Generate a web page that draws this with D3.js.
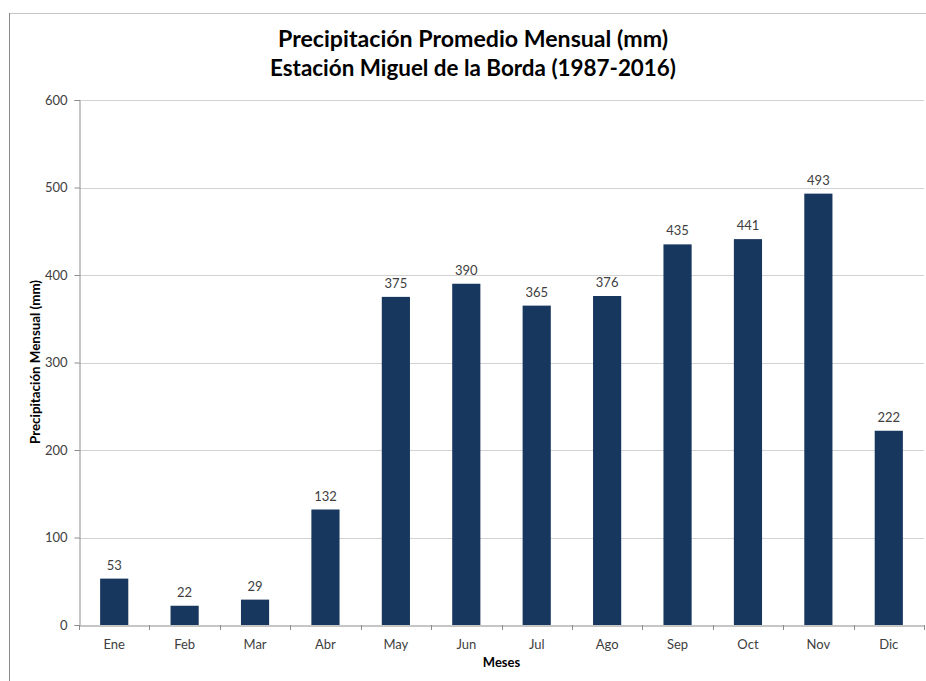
<!DOCTYPE html>
<html><head><meta charset="utf-8">
<script src="https://cdn.jsdelivr.net/npm/d3@7"></script>
<style>body{margin:0;background:#fff}svg{display:block}</style>
</head><body>
<svg id="c" width="926" height="681"></svg>
<script>
const months = ["Ene","Feb","Mar","Abr","May","Jun","Jul","Ago","Sep","Oct","Nov","Dic"];
const precip = [53,22,29,132,375,390,365,376,435,441,493,222];
const yTicks = [0,100,200,300,400,500,600];
const titleLines = ["Precipitación Promedio Mensual (mm)","Estación Miguel de la Borda (1987-2016)"];
const xTitle = "Meses";
const yTitle = "Precipitación Mensual (mm)";

const svg = d3.select("#c");
const font = "Lato, 'Open Sans', sans-serif";
const m = {l:79, r:924, t:100, b:625};

// chart area border (partially cropped)
svg.append("rect").attr("x",9.5).attr("y",13.5).attr("width",1000).attr("height",1000)
  .attr("fill","none").attr("stroke","#c4c4c4").attr("stroke-width",1);
svg.append("line").attr("x1",9.5).attr("x2",9.5).attr("y1",13).attr("y2",681).attr("stroke","#8c8c8c");

const x = d3.scaleBand().domain(months).range([m.l,m.r]).paddingInner(0.6).paddingOuter(0.3);
const y = d3.scaleLinear().domain([0,600]).range([m.b,m.t]);

// gridlines
svg.append("g").selectAll("line").data(yTicks.filter(d=>d>0)).join("line")
  .attr("x1",m.l).attr("x2",m.r).attr("y1",d=>Math.round(y(d))+0.5).attr("y2",d=>Math.round(y(d))+0.5)
  .attr("stroke","#d2d2d2");

// y axis
const ya = svg.append("g").attr("transform",`translate(${m.l+0.5},0)`)
  .call(d3.axisLeft(y).tickValues(yTicks).tickSize(5).tickPadding(7).tickFormat(d3.format("d")));
ya.select(".domain").attr("stroke","#8c8c8c");
ya.selectAll(".tick line").attr("stroke","#8c8c8c");
ya.selectAll("text").attr("font-family",font).attr("font-size",13).attr("fill","#404040");

// x axis
const xa = svg.append("g").attr("transform",`translate(0,${m.b+0.5})`)
  .call(d3.axisBottom(x).tickSize(0).tickPadding(14));
xa.select(".domain").attr("stroke","#8c8c8c");
xa.selectAll("text").attr("font-family",font).attr("font-size",13).attr("fill","#404040");
// category separator ticks
const bounds = d3.range(months.length+1).map(i => m.l + i*(m.r-m.l)/months.length);
svg.append("g").selectAll("line").data(bounds).join("line")
  .attr("x1",d=>Math.round(d)+0.5).attr("x2",d=>Math.round(d)+0.5)
  .attr("y1",m.b).attr("y2",m.b+5).attr("stroke","#8c8c8c");

// bars
svg.append("g").selectAll("rect").data(precip).join("rect")
  .attr("x",(d,i)=>x(months[i])).attr("width",x.bandwidth())
  .attr("y",d=>y(d)).attr("height",d=>y(0)-y(d))
  .attr("fill","#17375e");

// value labels
svg.append("g").selectAll("text").data(precip).join("text")
  .attr("x",(d,i)=>x(months[i])+x.bandwidth()/2).attr("y",d=>y(d)-9)
  .attr("text-anchor","middle").attr("font-family",font).attr("font-size",13).attr("fill","#404040")
  .text(d=>d);

// title
svg.append("g").selectAll("text").data(titleLines).join("text")
  .attr("x",473).attr("y",(d,i)=>47+i*29).attr("text-anchor","middle")
  .attr("font-family",font).attr("font-weight","bold").attr("font-size",22).attr("fill","#000")
  .attr("textLength",(d,i)=>i===0?390:406).attr("lengthAdjust","spacingAndGlyphs")
  .text(d=>d);

// axis titles
svg.append("text").attr("x",(m.l+m.r)/2).attr("y",667).attr("text-anchor","middle")
  .attr("font-family",font).attr("font-weight","bold").attr("font-size",13).attr("fill","#000").text(xTitle);
svg.append("text").attr("transform",`translate(40,362) rotate(-90)`).attr("text-anchor","middle")
  .attr("font-family",font).attr("font-weight","bold").attr("font-size",13).attr("fill","#000")
  .attr("textLength",164).attr("lengthAdjust","spacingAndGlyphs").text(yTitle);
</script>
</body></html>
